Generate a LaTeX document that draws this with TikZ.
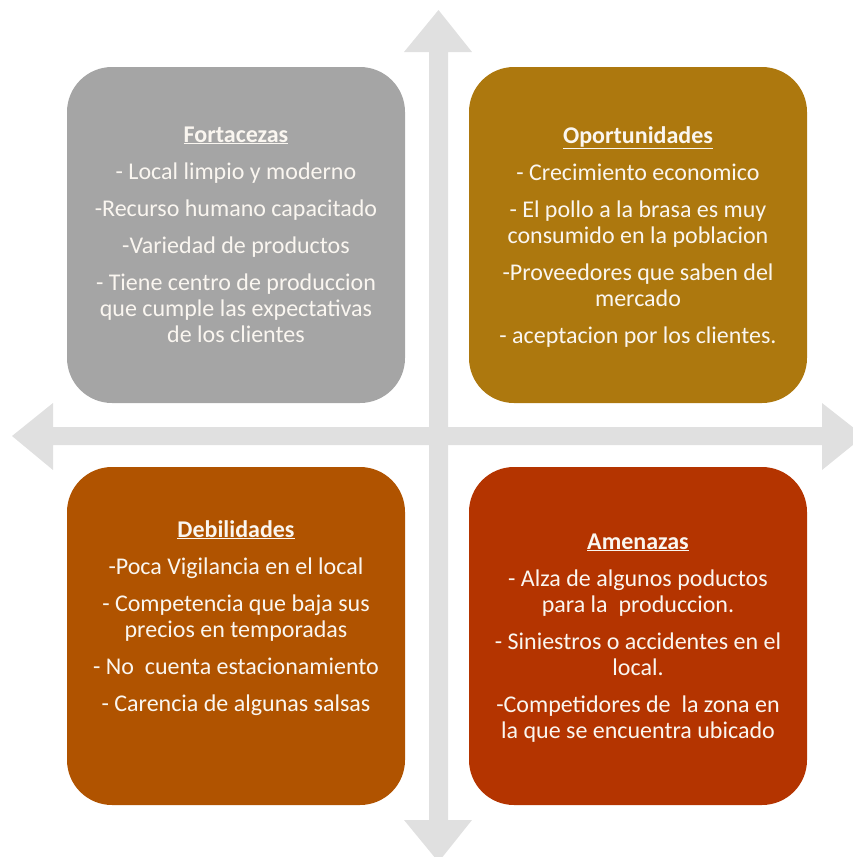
\documentclass[tikz,border=0pt]{standalone}
\usepackage{fontspec}
\setmainfont{Carlito}
\definecolor{arrowgray}{RGB}{224,224,224}
\definecolor{fgray}{RGB}{165,165,165}
\definecolor{ogold}{RGB}{173,120,14}
\definecolor{dorange}{RGB}{176,83,0}
\definecolor{ared}{RGB}{180,52,0}
\definecolor{txt}{RGB}{250,246,240}
\tikzset{
  quadbox/.style={rounded corners=45pt},
  quadtext/.style={anchor=base, align=center, text=txt, inner sep=0pt,
    font=\fontsize{24pt}{26pt}\selectfont},
  axisarrow/.style={fill=arrowgray, draw=none}
}
\newcommand{\qtitle}[1]{\textbf{\underline{#1}}}
\begin{document}
\begin{tikzpicture}[x=1pt,y=-1pt]
\useasboundingbox (0,0) rectangle (853,857);
\begin{scope}
\clip (0,0) rectangle (853,857);
% vertical double arrow
\fill[axisarrow] (438.5,10) -- (472,52) -- (448,52) -- (448,820) -- (472,820)
  -- (438.5,862) -- (404,820) -- (429,820) -- (429,52) -- (404,52) -- cycle;
% horizontal double arrow
\fill[axisarrow] (12,436) -- (53,403) -- (53,427) -- (822,427) -- (822,403)
  -- (864,436) -- (822,470) -- (822,445) -- (53,445) -- (53,470) -- cycle;
\end{scope}
% boxes
\fill[fgray, quadbox] (67,67) rectangle (405,403);
\fill[ogold, quadbox] (469,67) rectangle (807,403);
\fill[dorange, quadbox] (67,467) rectangle (405,805);
\fill[ared, quadbox] (469,467) rectangle (807,805);
% texts (base anchor = baseline of last line)
\node[quadtext] (fort) at (236,342) {\qtitle{Fortacezas}\\[11pt]
- Local limpio y moderno\\[11pt]
-Recurso humano capacitado\\[11pt]
-Variedad de productos\\[11pt]
- Tiene centro de produccion\\
que cumple las expectativas\\
de los clientes};
\node[quadtext] (opor) at (638,343) {\qtitle{Oportunidades}\\[11pt]
- Crecimiento economico\\[11pt]
- El pollo a la brasa es muy\\
consumido en la poblacion\\[11pt]
-Proveedores que saben del\\
mercado\\[11pt]
- aceptacion por los clientes.};
\node[quadtext] (debi) at (236,711) {\qtitle{Debilidades}\\[11pt]
-Poca Vigilancia en el local\\[11pt]
- Competencia que baja sus\\
precios en temporadas\\[11pt]
- No\ \ cuenta estacionamiento\\[11pt]
- Carencia de algunas salsas};
\node[quadtext] (amen) at (638,738) {\qtitle{Amenazas}\\[11pt]
- Alza de algunos poductos\\
para la\ \ produccion.\\[11pt]
- Siniestros o accidentes en el\\
local.\\[11pt]
-Competidores de\ \ la zona en\\
la que se encuentra ubicado};
\end{tikzpicture}
\end{document}
